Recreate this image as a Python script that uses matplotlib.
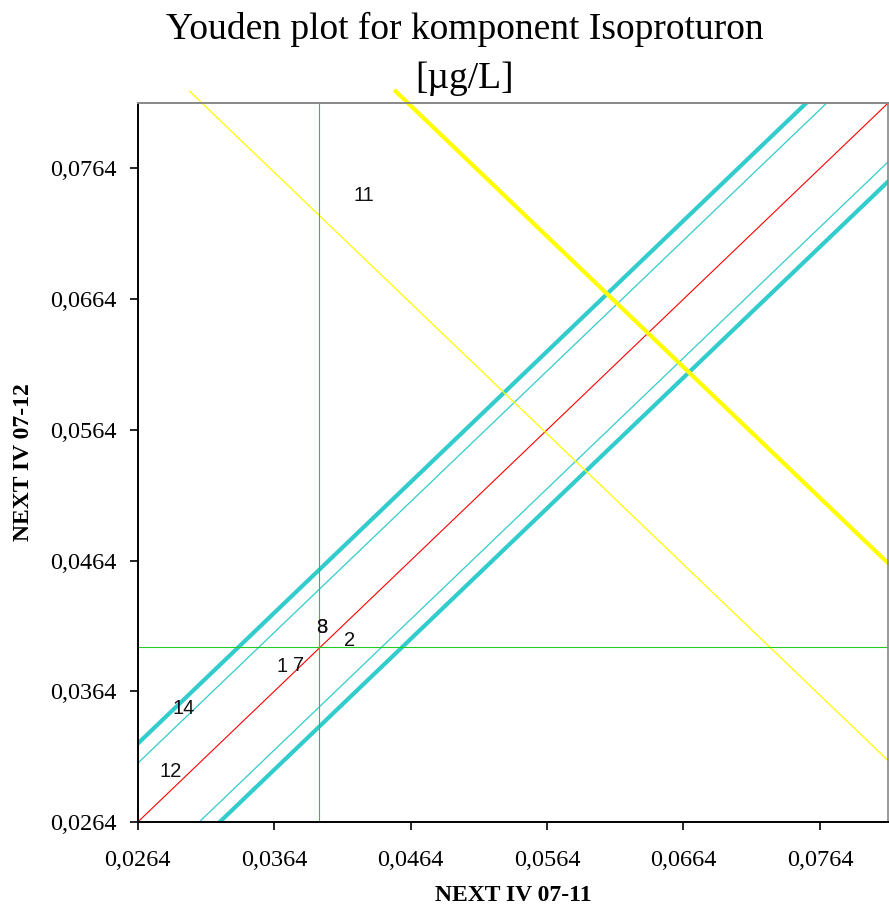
import numpy as np
import matplotlib.pyplot as plt
from matplotlib.ticker import FuncFormatter

# lab results (labels only, no markers)
lab_ids = ['11', '8', '3', '2', '1', '7', '14', '12']
x_vals = [0.0430, 0.03987, 0.03987, 0.0419, 0.0370, 0.0382, 0.0298, 0.0288]
y_vals = [0.0743, 0.04128, 0.04128, 0.0403, 0.0383, 0.0384, 0.0351, 0.0303]

# medians
median_x = 0.03965
median_y = 0.03982

# offsets of the parallel lines from y = x
thin_off = 0.0045
thick_off = 0.0060

# anti-diagonal lines y = c - x
yellow_thin_c = 0.1125
yellow_thick_c = 0.1276

lo, hi = 0.0264, 0.0814
ticks = [0.0264, 0.0364, 0.0464, 0.0564, 0.0664, 0.0764]

fig = plt.figure(figsize=(8.89, 9.15), dpi=100)
ax = fig.add_axes([0.155, 0.1016, 0.844, 0.7858])

xx = np.array([lo - 0.01, hi + 0.01])
ax.plot(xx, xx, color='#ff0000', lw=0.8)
ax.plot(xx, xx + thin_off, color='#33cccc', lw=0.9)
ax.plot(xx, xx - thin_off, color='#33cccc', lw=0.9)
ax.plot(xx, xx + thick_off, color='#33cccc', lw=3.0)
ax.plot(xx, xx - thick_off, color='#33cccc', lw=3.0)

# yellow lines poke a little above the plot area, like the original
top_y = 0.0823
xt = np.array([yellow_thin_c - top_y, hi])
ax.plot(xt, yellow_thin_c - xt, color='#ffff00', lw=0.9, clip_on=False)
xk = np.array([yellow_thick_c - top_y, hi])
ax.plot(xk, yellow_thick_c - xk, color='#ffff00', lw=3.0, clip_on=False)

ax.axvline(median_x, color='#22cc22', lw=0.8)
ax.axhline(median_y, color='#22cc22', lw=0.8)

for lab, x, y in zip(lab_ids, x_vals, y_vals):
    ax.text(x, y, lab, fontsize=14.5, family='Liberation Sans',
            ha='center', va='center', color='#111111')

ax.set_xlim(lo, hi)
ax.set_ylim(lo, hi)
ax.set_xticks(ticks)
ax.set_yticks(ticks)
fmt = FuncFormatter(lambda v, p: ('%.4f' % v).replace('.', ','))
ax.xaxis.set_major_formatter(fmt)
ax.yaxis.set_major_formatter(fmt)
for lbl in ax.get_xticklabels() + ax.get_yticklabels():
    lbl.set_family('Liberation Serif')
    lbl.set_fontsize(17.5)
ax.tick_params(direction='out', length=6, width=1.2, color='black')
ax.tick_params(axis='x', pad=14)
ax.tick_params(axis='y', pad=9)

ax.spines['left'].set_color('black')
ax.spines['bottom'].set_color('black')
ax.spines['left'].set_linewidth(1.4)
ax.spines['bottom'].set_linewidth(1.4)
ax.spines['top'].set_color('#888888')
ax.spines['right'].set_color('#888888')
ax.spines['top'].set_linewidth(1.4)
ax.spines['right'].set_linewidth(1.2)

ax.set_xlabel('NEXT IV 07-11', family='Liberation Serif', fontsize=17,
              fontweight='bold', labelpad=10)
ax.set_ylabel('NEXT IV 07-12', family='Liberation Serif', fontsize=17,
              fontweight='bold', labelpad=12)

fig.text(0.523, 0.968, 'Youden plot for komponent Isoproturon', ha='center',
         va='center', family='Liberation Serif', fontsize=27)
fig.text(0.523, 0.914, '[\u00b5g/L]', ha='center', va='center',
         family='Liberation Serif', fontsize=27)

fig.savefig('out.png', dpi=100)
